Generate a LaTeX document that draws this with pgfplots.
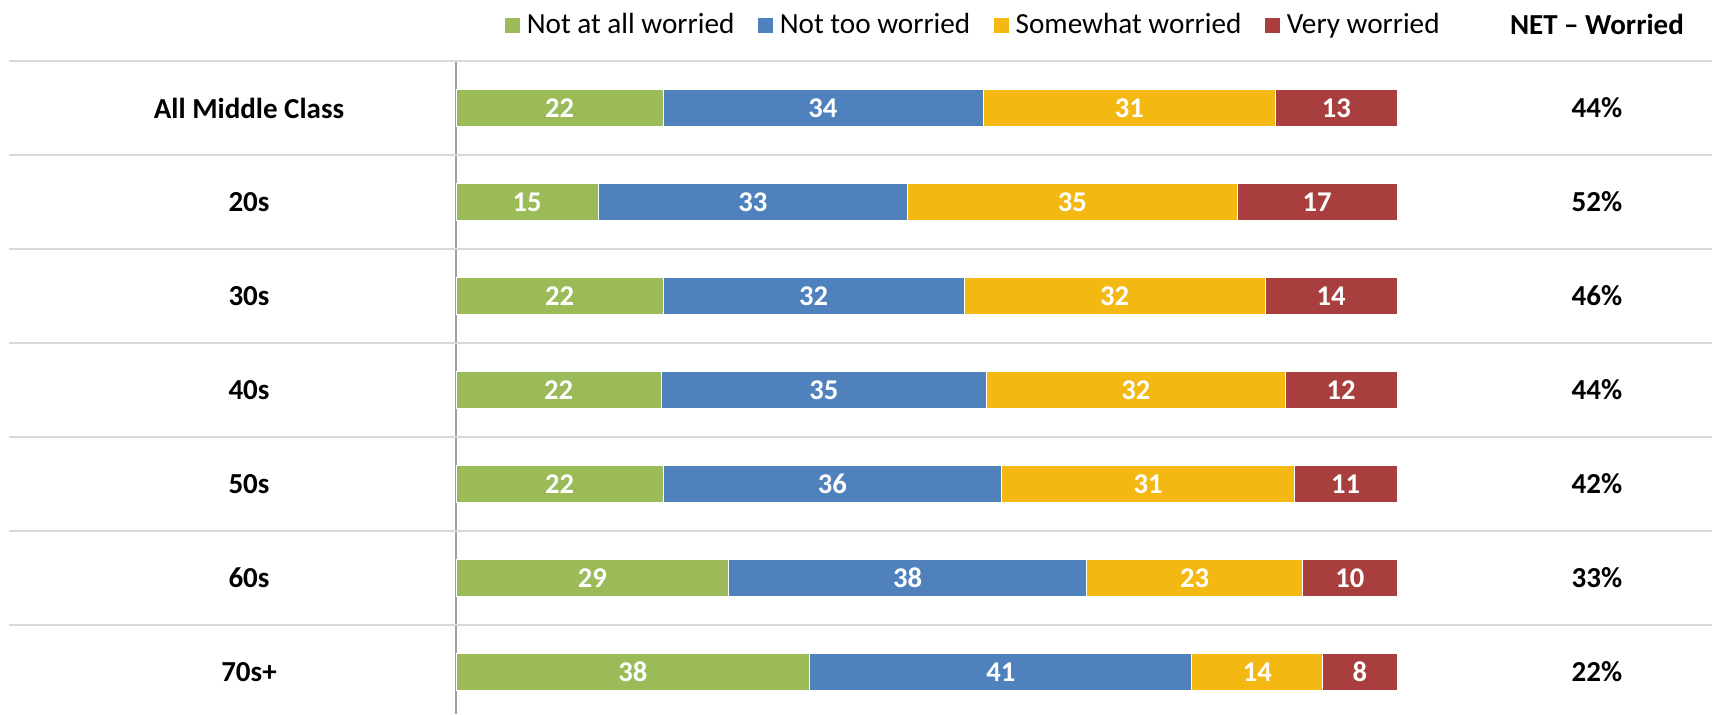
\documentclass[border=0pt]{standalone}
\usepackage{fontspec}
\setmainfont{Carlito}
\usepackage{pgfplots}
\pgfplotsset{compat=1.18}
\definecolor{cgreen}{HTML}{9BBB59}
\definecolor{cblue}{HTML}{4F81BD}
\definecolor{cyellow}{HTML}{F4B813}
\definecolor{cred}{HTML}{A83F3E}
\definecolor{sepgray}{HTML}{D9D9D9}
\definecolor{axgray}{HTML}{A0A0A0}
\begin{document}
\begin{tikzpicture}
\useasboundingbox (-228pt,0pt) rectangle (632.5pt,357pt);
\begin{axis}[
  at={(0pt,0pt)}, anchor=south west,
  scale only axis, width=470.5pt, height=326.5pt,
  xbar stacked, bar width=18.75pt,
  xmin=0, xmax=100, ymin=-0.5, ymax=6.447, y dir=reverse,
  hide x axis,
  y axis line style={draw=none},
  major tick length=0pt,
  ytick={0,...,6},
  yticklabels={All Middle Class,20s,30s,40s,50s,60s,70s+},
  yticklabel style={anchor=center, xshift=-103.5pt, font=\fontsize{14.5}{17}\selectfont\bfseries},
  clip=false,
  nodes near coords, point meta=explicit symbolic,
  every node near coord/.append style={font=\fontsize{14.3}{16}\selectfont\bfseries, text=white, anchor=center},
  legend columns=4,
  legend style={at={(0.551,1.055)}, anchor=center, draw=none, fill=none, inner sep=0pt,
    font=\fontsize{14.6}{16}\selectfont, cells={anchor=west},
    /tikz/every even column/.append style={column sep=10pt}},
  legend image code/.code={\fill[#1, draw=none] (0pt,-3.75pt) rectangle (7.5pt,3.75pt); \path (8.5pt,0pt);},
]
\addplot[fill=cgreen, draw=white, line width=0.4pt] coordinates {(22.0,0)[22] (15.1,1)[15] (22.0,2)[22] (21.8,3)[22] (22.0,4)[22] (29.0,5)[29] (37.6,6)[38]};
\addplot[fill=cblue, draw=white, line width=0.4pt] coordinates {(34.0,0)[34] (32.9,1)[33] (32.0,2)[32] (34.6,3)[35] (36.0,4)[36] (38.0,5)[38] (40.6,6)[41]};
\addplot[fill=cyellow, draw=white, line width=0.4pt] coordinates {(31.1,0)[31] (35.0,1)[35] (32.0,2)[32] (31.7,3)[32] (31.1,4)[31] (23.0,5)[23] (13.9,6)[14]};
\addplot[fill=cred, draw=white, line width=0.4pt] coordinates {(12.9,0)[13] (17.0,1)[17] (14.0,2)[14] (11.9,3)[12] (10.9,4)[11] (10.0,5)[10] (7.9,6)[8]};
\legend{Not at all worried, Not too worried, Somewhat worried, Very worried}
\pgfplotsinvokeforeach{-0.5,0.5,1.5,2.5,3.5,4.5,5.5}{
  \draw[sepgray, line width=1pt] (axis cs:-47.5,#1) -- (axis cs:133.5,#1);
}
\draw[axgray, line width=0.8pt] (axis cs:0,-0.5) -- (axis cs:0,6.447);
\node[font=\fontsize{14.5}{17}\selectfont\bfseries] at (axis cs:121.25,-0.894) {NET – Worried};
\node[font=\fontsize{14.5}{17}\selectfont\bfseries] at (axis cs:121.25,0) {44\%};
\node[font=\fontsize{14.5}{17}\selectfont\bfseries] at (axis cs:121.25,1) {52\%};
\node[font=\fontsize{14.5}{17}\selectfont\bfseries] at (axis cs:121.25,2) {46\%};
\node[font=\fontsize{14.5}{17}\selectfont\bfseries] at (axis cs:121.25,3) {44\%};
\node[font=\fontsize{14.5}{17}\selectfont\bfseries] at (axis cs:121.25,4) {42\%};
\node[font=\fontsize{14.5}{17}\selectfont\bfseries] at (axis cs:121.25,5) {33\%};
\node[font=\fontsize{14.5}{17}\selectfont\bfseries] at (axis cs:121.25,6) {22\%};
\end{axis}
\end{tikzpicture}
\end{document}
